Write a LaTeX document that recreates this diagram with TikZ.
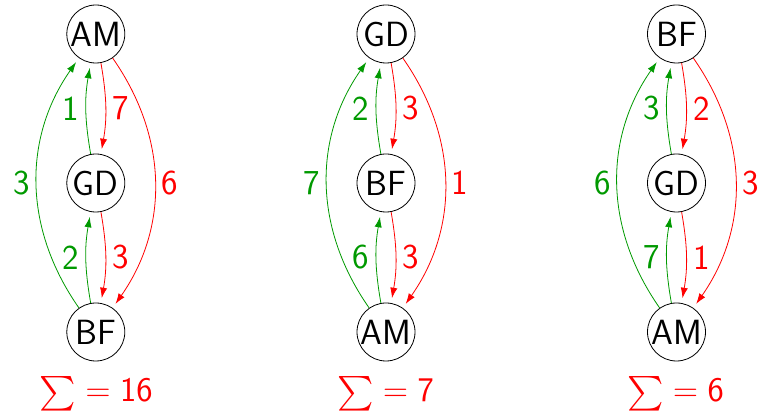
\documentclass[tikz,border=0pt]{standalone}
\usepackage{amsmath}
\usetikzlibrary{arrows.meta}
\begin{document}
\begin{tikzpicture}[x=0.5pt,y=-0.5pt,
  font=\sffamily\fontsize{17.5pt}{20pt}\selectfont,
  vertex/.style={circle,draw,minimum size=29pt,inner sep=0pt},
  upedge/.style={draw=green!60!black,text=green!60!black,-{Latex[length=5.2pt,width=3.6pt]},shorten >=2.5pt},
  downedge/.style={draw=red,text=red,-{Latex[length=5.2pt,width=3.6pt]},shorten >=2.5pt},
  sumlbl/.style={text=red,anchor=base,font=\sffamily\fontsize{16.5pt}{19pt}\selectfont}]
\useasboundingbox (0,0) rectangle (762,411);
% graph 1
\node[vertex] (t1) at (95.8,34) {AM};
\node[vertex] (m1) at (95.8,183) {GD};
\node[vertex] (b1) at (95.8,332) {BF};
\draw[upedge] (m1) to[bend left=10] node[auto] {1} (t1);
\draw[downedge] (t1) to[bend left=10] node[auto] {7} (m1);
\draw[upedge] (b1) to[bend left=10] node[auto] {2} (m1);
\draw[downedge] (m1) to[bend left=10] node[auto] {3} (b1);
\draw[upedge] (b1) to[bend left=35] node[auto] {3} (t1);
\draw[downedge] (t1) to[bend left=35] node[auto] {6} (b1);
\node[sumlbl] (s1) at (96,402) {$\sum=\mathsf{16}$};
% graph 2
\node[vertex] (t2) at (386,34) {GD};
\node[vertex] (m2) at (386,183) {BF};
\node[vertex] (b2) at (386,332) {AM};
\draw[upedge] (m2) to[bend left=10] node[auto] {2} (t2);
\draw[downedge] (t2) to[bend left=10] node[auto] {3} (m2);
\draw[upedge] (b2) to[bend left=10] node[auto] {6} (m2);
\draw[downedge] (m2) to[bend left=10] node[auto] {3} (b2);
\draw[upedge] (b2) to[bend left=35] node[auto] {7} (t2);
\draw[downedge] (t2) to[bend left=35] node[auto] {1} (b2);
\node[sumlbl] (s2) at (385.5,402) {$\sum=\mathsf{7}$};
% graph 3
\node[vertex] (t3) at (676.5,34) {BF};
\node[vertex] (m3) at (676.5,183) {GD};
\node[vertex] (b3) at (676.5,332) {AM};
\draw[upedge] (m3) to[bend left=10] node[auto] {3} (t3);
\draw[downedge] (t3) to[bend left=10] node[auto] {2} (m3);
\draw[upedge] (b3) to[bend left=10] node[auto] {7} (m3);
\draw[downedge] (m3) to[bend left=10] node[auto] {1} (b3);
\draw[upedge] (b3) to[bend left=35] node[auto] {6} (t3);
\draw[downedge] (t3) to[bend left=35] node[auto] {3} (b3);
\node[sumlbl] (s3) at (675.5,402) {$\sum=\mathsf{6}$};
\end{tikzpicture}
\end{document}
